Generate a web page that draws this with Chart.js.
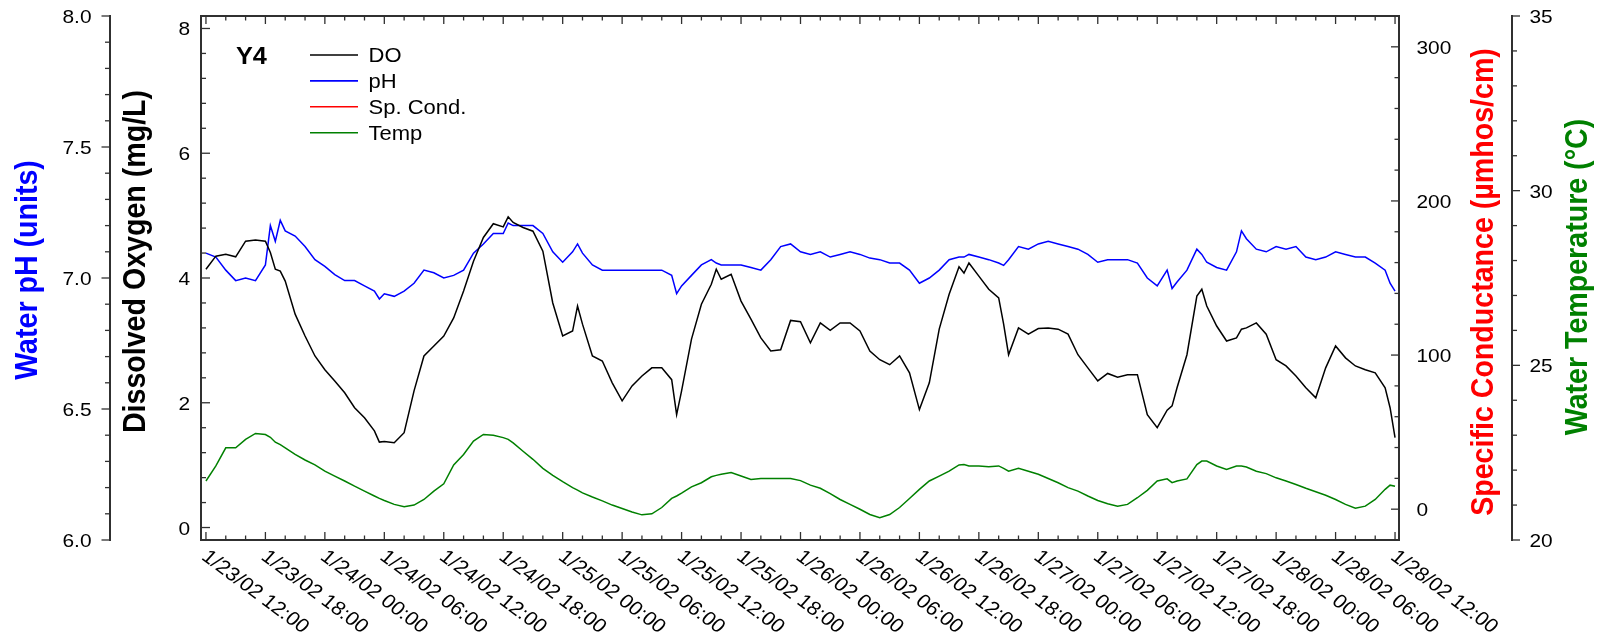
<!DOCTYPE html>
<html>
<head>
<meta charset="utf-8">
<title>Y4 water quality, 1/23/02 - 1/28/02</title>
<script src="https://cdn.jsdelivr.net/npm/chart.js@4.4.1/dist/chart.umd.min.js"></script>
<style>
  html, body { margin: 0; padding: 0; background: #ffffff; }
  canvas { display: block; }
</style>
</head>
<body>
<canvas id="chart" width="1600" height="639"></canvas>
<script>
// Sample times, in hours after 1/23/02 00:00
const sampleHours = [
  12, 13, 14, 15, 16, 17, 18, 18.5, 19, 19.5, 20, 21, 22, 23, 24, 25, 26, 27, 28, 29, 29.5,
  30, 31, 32, 33, 34, 35, 36, 37, 38, 39, 40, 41, 42, 42.5, 43, 44, 45, 46, 47, 48, 49, 49.5,
  50, 51, 52, 53, 54, 55, 56, 57, 58, 59, 59.5, 60, 61, 62, 63, 63.5, 64, 65, 66, 67, 68, 69,
  70, 71, 72, 73, 74, 75, 76, 77, 78, 79, 80, 81, 82, 83, 84, 85, 86, 87, 88, 88.5, 89,
  90, 91, 92, 92.5, 93, 94, 95, 96, 97, 98, 99, 100, 101, 102, 103, 104, 105, 106, 107, 108, 109, 109.5,
  110, 111, 112, 112.5, 113, 114, 115, 116, 116.5, 117, 118, 119, 120, 121, 122, 123, 124, 125, 126,
  127, 128, 129, 130, 131, 131.5, 132
];

// Dissolved oxygen, mg/L
const dissolvedOxygen = [
  4.14, 4.35, 4.38, 4.34, 4.59, 4.61, 4.59, 4.41, 4.14, 4.11, 3.95, 3.42, 3.07, 2.75, 2.53, 2.35, 2.16, 1.92, 1.76, 1.55, 1.37,
  1.38, 1.36, 1.52, 2.19, 2.75, 2.91, 3.07, 3.36, 3.79, 4.27, 4.65, 4.87, 4.82, 4.98, 4.89, 4.81, 4.75, 4.43, 3.60, 3.07, 3.15, 3.55,
  3.26, 2.75, 2.67, 2.32, 2.03, 2.27, 2.43, 2.56, 2.56, 2.37, 1.81, 2.19, 3.02, 3.58, 3.90, 4.14, 3.98, 4.06, 3.63, 3.34, 3.04, 2.83,
  2.85, 3.32, 3.30, 2.96, 3.28, 3.16, 3.28, 3.28, 3.15, 2.83, 2.69, 2.61, 2.75, 2.48, 1.89, 2.32, 3.18, 3.74, 4.18, 4.08, 4.24,
  4.03, 3.82, 3.68, 3.26, 2.77, 3.20, 3.10, 3.19, 3.20, 3.18, 3.10, 2.77, 2.56, 2.35, 2.47, 2.41, 2.45, 2.45, 1.81, 1.60, 1.88, 1.95,
  2.24, 2.77, 3.71, 3.82, 3.55, 3.23, 2.99, 3.04, 3.18, 3.20, 3.28, 3.10, 2.69, 2.59, 2.43, 2.24, 2.08, 2.56, 2.91,
  2.72, 2.59, 2.53, 2.48, 2.24, 1.92, 1.44
];

// Water pH, units
const waterPH = [
  7.095, 7.08, 7.03, 6.99, 7.00, 6.99, 7.05, 7.20, 7.14, 7.22, 7.18, 7.16, 7.12, 7.07, 7.044, 7.013, 6.99, 6.99, 6.97, 6.95, 6.92,
  6.94, 6.93, 6.95, 6.98, 7.03, 7.02, 7.00, 7.01, 7.03, 7.095, 7.13, 7.17, 7.17, 7.21, 7.20, 7.20, 7.20, 7.17, 7.10, 7.06, 7.10, 7.13,
  7.095, 7.05, 7.03, 7.03, 7.03, 7.03, 7.03, 7.03, 7.03, 7.01, 6.94, 6.97, 7.01, 7.05, 7.07, 7.057, 7.05, 7.05, 7.05, 7.04, 7.03, 7.07,
  7.12, 7.13, 7.10, 7.09, 7.10, 7.08, 7.09, 7.10, 7.09, 7.076, 7.07, 7.057, 7.057, 7.03, 6.98, 7.00, 7.03, 7.07, 7.08, 7.08, 7.09,
  7.08, 7.07, 7.057, 7.048, 7.07, 7.12, 7.11, 7.13, 7.14, 7.13, 7.12, 7.11, 7.09, 7.06, 7.07, 7.07, 7.07, 7.057, 7.00, 6.97, 7.03, 6.96,
  6.985, 7.03, 7.11, 7.09, 7.06, 7.04, 7.03, 7.10, 7.18, 7.15, 7.11, 7.10, 7.12, 7.11, 7.12, 7.08, 7.07, 7.08, 7.10,
  7.09, 7.08, 7.08, 7.057, 7.03, 6.98, 6.95
];

// Specific conductance, umhos/cm (no readings in this record)
const specificConductance = [];

// Water temperature, deg C
const waterTemp = [
  21.69, 22.12, 22.64, 22.64, 22.88, 23.05, 23.02, 22.94, 22.80, 22.73, 22.64, 22.45, 22.29, 22.15, 21.97, 21.83, 21.69, 21.54, 21.40, 21.26, 21.19,
  21.13, 21.02, 20.95, 21.00, 21.16, 21.40, 21.61, 22.15, 22.45, 22.83, 23.02, 23.00, 22.93, 22.88, 22.78, 22.54, 22.31, 22.05, 21.85, 21.67, 21.50, 21.43,
  21.35, 21.23, 21.12, 21.00, 20.90, 20.80, 20.72, 20.75, 20.93, 21.19, 21.26, 21.34, 21.52, 21.64, 21.81, 21.85, 21.88, 21.93, 21.83, 21.73, 21.76, 21.76,
  21.76, 21.76, 21.70, 21.57, 21.48, 21.33, 21.16, 21.02, 20.88, 20.73, 20.64, 20.73, 20.93, 21.19, 21.45, 21.69, 21.83, 21.97, 22.15, 22.16, 22.12,
  22.12, 22.10, 22.12, 22.05, 21.97, 22.05, 21.97, 21.88, 21.76, 21.64, 21.50, 21.40, 21.26, 21.13, 21.04, 20.97, 21.02, 21.21, 21.42, 21.69, 21.75, 21.64,
  21.69, 21.75, 22.16, 22.26, 22.26, 22.12, 22.02, 22.12, 22.12, 22.09, 21.97, 21.90, 21.78, 21.69, 21.59, 21.48, 21.38, 21.28, 21.16,
  21.02, 20.91, 20.97, 21.16, 21.45, 21.57, 21.54
];

// Time axis labels, one every 6 hours starting at hour 12
const timeLabels = [
  '1/23/02 12:00', '1/23/02 18:00', '1/24/02 00:00', '1/24/02 06:00', '1/24/02 12:00', '1/24/02 18:00',
  '1/25/02 00:00', '1/25/02 06:00', '1/25/02 12:00', '1/25/02 18:00', '1/26/02 00:00', '1/26/02 06:00',
  '1/26/02 12:00', '1/26/02 18:00', '1/27/02 00:00', '1/27/02 06:00', '1/27/02 12:00', '1/27/02 18:00',
  '1/28/02 00:00', '1/28/02 06:00', '1/28/02 12:00'
];
const timeLabelHours = timeLabels.map((_, i) => 12 + 6 * i);

// Labelled ticks of each vertical axis
const phTicks = [6.0, 6.5, 7.0, 7.5, 8.0];
const doTicks = [0, 2, 4, 6, 8];
const condTicks = [0, 100, 200, 300];
const tempTicks = [20, 25, 30, 35];

const FONT = '"Liberation Sans", Arial, Helvetica, sans-serif';
const FRAME = '#303030';
const STRETCH = 1.1;          // glyphs are drawn slightly wide

function tickList(from, to, step, majors) {
  const out = [];
  const n = Math.round((to - from) / step);
  for (let k = 0; k <= n; k++) {
    const v = +(from + k * step).toFixed(6);
    out.push({ value: v, isMajor: majors.some(m => Math.abs(m - v) < 1e-6) });
  }
  return out;
}

function yAxis(position, weight, width, min, max, ticks) {
  return {
    type: 'linear', position, weight, min, max, bounds: 'data',
    grid: { display: true, drawOnChartArea: false, drawTicks: false },
    border: { display: true, color: FRAME, width: 2 },
    ticks: { display: false },
    afterBuildTicks: s => { s.ticks = ticks; },
    afterFit: s => { s.width = width; }
  };
}

function wideText(ctx, text, x, y, align, font, color, angle) {
  ctx.save();
  ctx.translate(x, y);
  ctx.scale(STRETCH, 1);
  if (angle) ctx.rotate(angle);
  ctx.font = font;
  ctx.fillStyle = color;
  ctx.textAlign = align;
  ctx.textBaseline = 'alphabetic';
  ctx.fillText(text, 0, 0);
  ctx.restore();
}

function tick(ctx, x1, y1, x2, y2) {
  ctx.beginPath();
  ctx.moveTo(x1, y1);
  ctx.lineTo(x2, y2);
  ctx.stroke();
}

const decorations = {
  id: 'decorations',
  afterDraw(chart) {
    const { ctx, chartArea: a, scales } = chart;
    const { x, yPH, yDO, ySC, yT } = scales;
    const tickFont = '19px ' + FONT;
    ctx.save();

    // top edge of the plot frame
    ctx.strokeStyle = FRAME;
    ctx.lineWidth = 2;
    tick(ctx, a.left - 1, a.top, a.right + 1, a.top);

    ctx.lineWidth = 1.3;
    // time ticks, bottom and top, pointing inward
    x.ticks.forEach(t => {
      const px = x.getPixelForValue(t.value);
      const len = t.isMajor ? 8 : 4.5;
      tick(ctx, px, a.bottom, px, a.bottom - len);
      tick(ctx, px, a.top, px, a.top + len);
    });
    // pH ticks point outward from the left axis line
    yPH.ticks.forEach(t => {
      const py = yPH.getPixelForValue(t.value);
      tick(ctx, yPH.right, py, yPH.right - (t.isMajor ? 8.5 : 5), py);
      if (t.isMajor) wideText(ctx, t.value.toFixed(1), yPH.right - 18.5, py + 7, 'right', tickFont, '#000');
    });
    // DO ticks point into the plot
    yDO.ticks.forEach(t => {
      const py = yDO.getPixelForValue(t.value);
      tick(ctx, a.left, py, a.left + (t.isMajor ? 9 : 5), py);
      if (t.isMajor) wideText(ctx, String(t.value), a.left - 11, py + 7, 'right', tickFont, '#000');
    });
    // conductance ticks point into the plot
    ySC.ticks.forEach(t => {
      const py = ySC.getPixelForValue(t.value);
      tick(ctx, a.right, py, a.right - (t.isMajor ? 8 : 4.5), py);
      if (t.isMajor) wideText(ctx, String(t.value), a.right + 17.5, py + 7, 'left', tickFont, '#000');
    });
    // temperature ticks point outward from the right axis line
    yT.ticks.forEach(t => {
      const py = yT.getPixelForValue(t.value);
      tick(ctx, yT.left, py, yT.left + (t.isMajor ? 8 : 5), py);
      if (t.isMajor) wideText(ctx, String(t.value), yT.left + 17.5, py + 7, 'left', tickFont, '#000');
    });

    // slanted date/time labels
    timeLabels.forEach((label, i) => {
      const px = x.getPixelForValue(timeLabelHours[i]);
      wideText(ctx, label, px - 5.5, a.bottom + 18.5, 'left', '19.5px ' + FONT, '#000', 0.684);
    });

    // axis titles, reading bottom to top
    const titleFont = 'bold 28.6px ' + FONT;
    const midY = (a.top + a.bottom) / 2;
    wideText(ctx, 'Water pH (units)', yPH.left + 37, midY - 8, 'center', titleFont, '#0000ff', -Math.PI / 2);
    wideText(ctx, 'Dissolved Oxygen (mg/L)', yDO.left + 35, midY - 16.5, 'center', titleFont, '#000000', -Math.PI / 2);
    wideText(ctx, 'Specific Conductance (\u00b5mhos/cm)', ySC.left + 93.5, midY + 4, 'center', titleFont, '#ff0000', -Math.PI / 2);
    wideText(ctx, 'Water Temperature (\u00b0C)', yT.left + 75.3, midY - 1, 'center', titleFont, '#008000', -Math.PI / 2);

    // site name and legend
    wideText(ctx, 'Y4', a.left + 35, a.top + 48, 'left', 'bold 23px ' + FONT, '#000');
    chart.data.datasets.forEach((ds, i) => {
      const ly = a.top + 39 + i * 25.9;
      ctx.strokeStyle = ds.borderColor;
      ctx.lineWidth = 1.6;
      tick(ctx, a.left + 109, ly, a.left + 157, ly);
      wideText(ctx, ds.label, a.left + 167.5, ly + 7.3, 'left', '20px ' + FONT, '#000');
    });

    ctx.restore();
  }
};

const series = (values) => values.map((v, i) => ({ x: sampleHours[i], y: v }));

new Chart(document.getElementById('chart'), {
  type: 'line',
  data: {
    datasets: [
      { label: 'DO', data: series(dissolvedOxygen), yAxisID: 'yDO', borderColor: '#000000' },
      { label: 'pH', data: series(waterPH), yAxisID: 'yPH', borderColor: '#0000ff' },
      { label: 'Sp. Cond.', data: series(specificConductance), yAxisID: 'ySC', borderColor: '#ff0000' },
      { label: 'Temp', data: series(waterTemp), yAxisID: 'yT', borderColor: '#008000' }
    ]
  },
  options: {
    responsive: false,
    animation: false,
    layout: { padding: { top: 16, left: 0, right: 0, bottom: 0 } },
    elements: {
      line: { borderWidth: 1.5, tension: 0, fill: false },
      point: { radius: 0, hoverRadius: 0 }
    },
    plugins: { legend: { display: false }, tooltip: { enabled: false } },
    events: [],
    scales: {
      x: {
        type: 'linear', position: 'bottom', min: 11.5, max: 132.4, bounds: 'data',
        grid: { display: true, drawOnChartArea: false, drawTicks: false },
        border: { display: true, color: FRAME, width: 2 },
        ticks: { display: false },
        afterBuildTicks: s => { s.ticks = tickList(12, 132, 2, timeLabelHours); },
        afterFit: s => { s.height = 99; }
      },
      yPH: yAxis('left', 2, 110, 6, 8, tickList(6, 8, 0.1, phTicks)),
      yDO: yAxis('left', 1, 91, -0.2, 8.2, tickList(0, 8, 0.4, doTicks)),
      ySC: yAxis('right', 1, 113, -20, 320, tickList(-20, 320, 20, condTicks)),
      yT: yAxis('right', 2, 88, 20, 35, tickList(20, 35, 1, tempTicks))
    }
  },
  plugins: [decorations]
});
</script>
</body>
</html>
